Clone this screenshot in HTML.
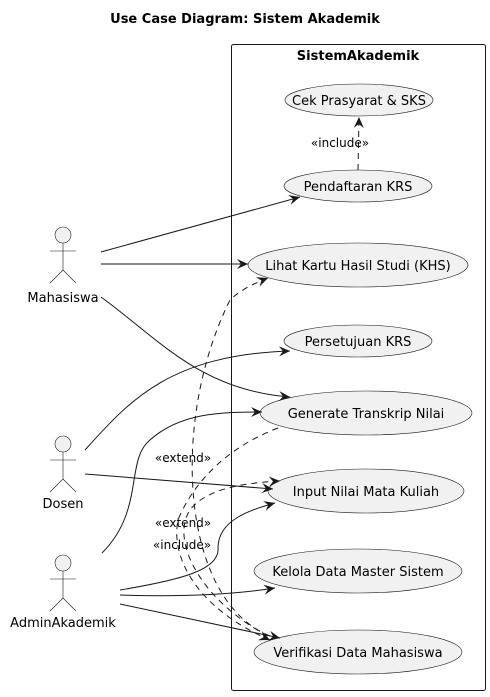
<!DOCTYPE html>
<html><head><meta charset="utf-8"><style>
body{margin:0;background:#fff;}
svg{display:block;font-family:"DejaVu Sans","Liberation Sans",sans-serif;}
</style></head><body>
<svg width="490" height="697" viewBox="0 0 490 697" xmlns="http://www.w3.org/2000/svg">
<defs>
<marker id="a" viewBox="0 0 12 12" refX="11" refY="6" markerWidth="12" markerHeight="12" markerUnits="userSpaceOnUse" orient="auto">
<path d="M0,1 L11,6 L0,11 L4,6 Z" fill="#181818"/></marker>
</defs>
<text x="245" y="23" text-anchor="middle" font-size="13" font-weight="bold">Use Case Diagram: Sistem Akademik</text>
<rect x="231.5" y="44.5" width="254" height="646" rx="2" fill="none" stroke="#181818" stroke-width="1"/>
<text x="358" y="60" text-anchor="middle" font-size="13" font-weight="bold">SistemAkademik</text>
<g fill="#f1f1f1" stroke="#181818" stroke-width="0.6">
<ellipse cx="359" cy="100" rx="74" ry="16"/>
<ellipse cx="358" cy="186" rx="74" ry="16"/>
<ellipse cx="358" cy="265" rx="110" ry="22"/>
<ellipse cx="358" cy="341" rx="74" ry="16"/>
<ellipse cx="366" cy="413" rx="106" ry="22"/>
<ellipse cx="366" cy="491" rx="98" ry="22"/>
<ellipse cx="358" cy="571" rx="104" ry="22"/>
<ellipse cx="358" cy="652" rx="104" ry="22"/>
</g>
<g font-size="13" text-anchor="middle" fill="#000">
<text x="359" y="105">Cek Prasyarat &amp; SKS</text>
<text x="358" y="191">Pendaftaran KRS</text>
<text x="358" y="270">Lihat Kartu Hasil Studi (KHS)</text>
<text x="358" y="346">Persetujuan KRS</text>
<text x="366" y="418">Generate Transkrip Nilai</text>
<text x="366" y="496">Input Nilai Mata Kuliah</text>
<text x="358" y="576">Kelola Data Master Sistem</text>
<text x="358" y="657">Verifikasi Data Mahasiswa</text>
</g>
<g fill="#f1f1f1" stroke="#181818" stroke-width="0.6">
<circle cx="63" cy="235" r="8"/><path d="M63,243V270M50,251H76M63,270L50,283M63,270L76,283" fill="none"/>
<circle cx="63" cy="444" r="8"/><path d="M63,452V479M50,460H76M63,479L50,492M63,479L76,492" fill="none"/>
<circle cx="63" cy="563" r="8"/><path d="M63,571V598M50,579H76M63,598L50,611M63,598L76,611" fill="none"/>
</g>
<g font-size="13" text-anchor="middle">
<text x="63" y="302">Mahasiswa</text>
<text x="63" y="508">Dosen</text>
<text x="63" y="627">AdminAkademik</text>
</g>
<g fill="none" stroke="#181818" stroke-width="1" marker-end="url(#a)">
<path d="M101,252 L300,197"/>
<path d="M101,264 L248,264"/>
<path d="M101,297 C160,340 200,390 290,397"/>
<path d="M85,450 C130,400 170,355 290,351"/>
<path d="M85,474 L273,489"/>
<path d="M102,553 C145,510 125,460 150,440 C180,413 220,412 262,412"/>
<path d="M120,590 C180,580 220,570 218,548 C218,520 250,510 275,503"/>
<path d="M120,595 C180,597 230,595 275,588"/>
<path d="M120,604 L280,638"/>
</g>
<g fill="none" stroke="#181818" stroke-width="1" stroke-dasharray="6,5" marker-end="url(#a)">
<path d="M358,170 L359,117"/>
<path d="M270,636 C180,600 170,420 230,300 C240,290 255,283 268,278"/>
<path d="M278,428 C220,450 190,490 178,520 C170,560 200,610 270,640"/>
<path d="M268,636 C200,600 170,540 190,510 C205,490 240,483 280,481"/>
</g>
<g font-size="12" text-anchor="middle">
<text x="340" y="147">«include»</text>
<text x="183" y="462">«extend»</text>
<text x="183" y="527">«extend»</text>
<text x="182" y="549">«include»</text>
</g>
</svg>
</body></html>
